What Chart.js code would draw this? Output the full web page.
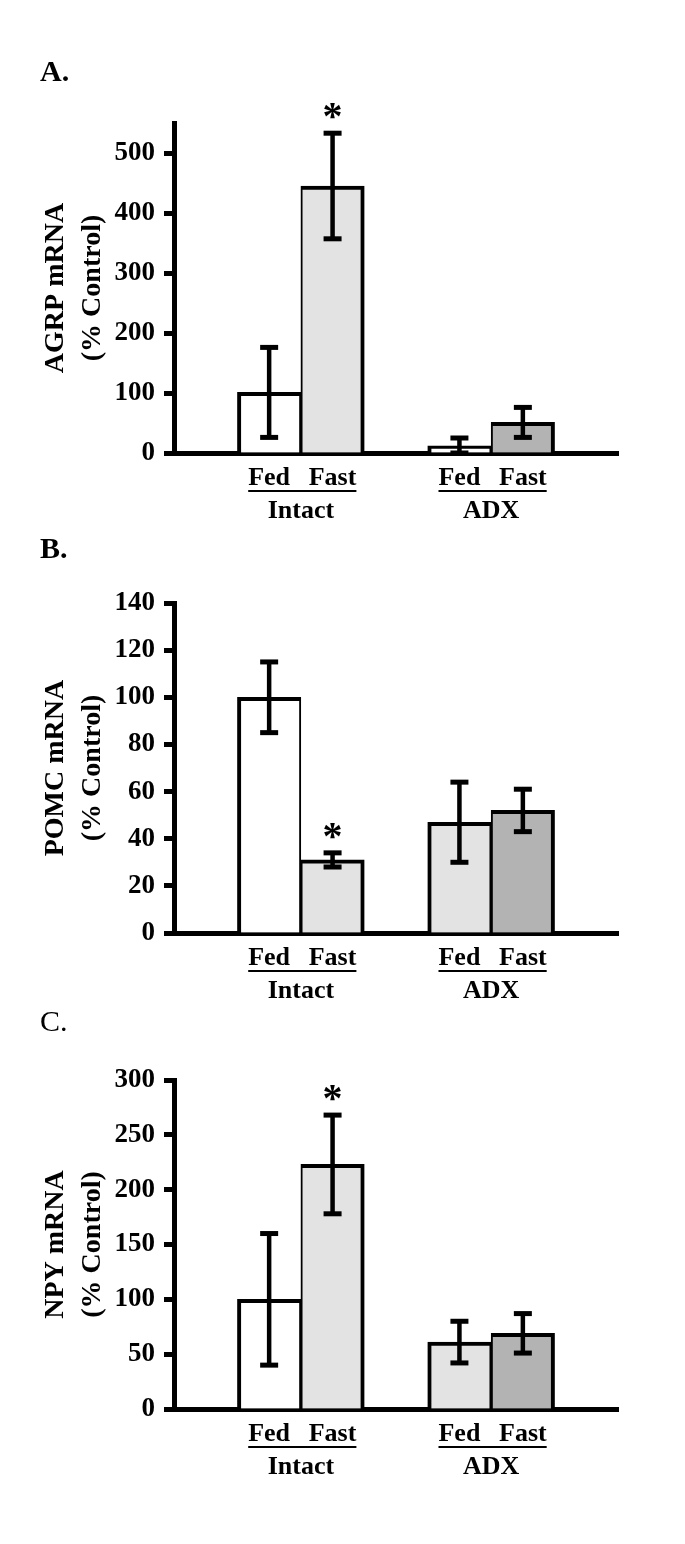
<!DOCTYPE html>
<html>
<head>
<meta charset="utf-8">
<script src="https://cdn.jsdelivr.net/npm/chart.js@4.4.1/dist/chart.umd.min.js"></script>
<style>
html,body{margin:0;padding:0;background:#fff;}
body{width:685px;height:1544px;position:relative;overflow:hidden;}
.panel{position:absolute;left:0;width:685px;}
canvas{display:block;}
</style>
</head>
<body>
<div class="panel" style="top:0px;height:525px"><canvas id="cA" width="685" height="525"></canvas></div>
<div class="panel" style="top:525px;height:475px"><canvas id="cB" width="685" height="475"></canvas></div>
<div class="panel" style="top:1000px;height:544px"><canvas id="cC" width="685" height="544"></canvas></div>
<script>
// ---------- data ----------
const conditions = ['Fed', 'Fast', 'Fed', 'Fast'];
const groups = ['Intact', 'ADX'];
const panelLetters = ['A.', 'B.', 'C.'];

const agrpTitle = ['AGRP mRNA', '(% Control)'];
const agrpMean = [101, 445, 12, 51];
const agrpErr  = [75, 88, 13, 25];
const agrpSig  = ['', '*', '', ''];
const agrpTickLabels = [0, 100, 200, 300, 400, 500];
const agrpAxis = [0, 550, 50];

const pomcTitle = ['POMC mRNA', '(% Control)'];
const pomcMean = [100, 31, 47, 52];
const pomcErr  = [15, 3, 17, 9];
const pomcSig  = ['', '*', '', ''];
const pomcTickLabels = [0, 20, 40, 60, 80, 100, 120, 140];
const pomcAxis = [0, 140, 20];

const npyTitle = ['NPY mRNA', '(% Control)'];
const npyMean = [100, 223, 61, 69];
const npyErr  = [60, 45, 19, 18];
const npySig  = ['', '*', '', ''];
const npyTickLabels = [0, 50, 100, 150, 200, 250, 300];
const npyAxis = [0, 300, 50];

// ---------- layout helpers ----------
const SERIF = '"Liberation Serif", "Times New Roman", serif';
const slotOf = [1, 2, 4, 5];   // category slots used by the 4 bars (7 slots total)
const NSLOTS = 7;

function slotLabels() {
  const a = Array(NSLOTS).fill('');
  slotOf.forEach((s, i) => a[s] = conditions[i]);
  return a;
}
function slotValues(vals) {
  const a = Array(NSLOTS).fill(null);
  slotOf.forEach((s, i) => a[s] = vals[i]);
  return a;
}
function slotColors(cols) {
  const a = Array(NSLOTS).fill('#ffffff');
  slotOf.forEach((s, i) => a[s] = cols[i]);
  return a;
}

const decor = {
  id: 'decor',
  afterDatasetsDraw(chart, args, o) {
    const ctx = chart.ctx, y = chart.scales.y, meta = chart.getDatasetMeta(0);
    ctx.save();
    ctx.strokeStyle = '#000';
    ctx.fillStyle = '#000';
    ctx.lineCap = 'butt';
    slotOf.forEach((slot, i) => {
      const cx = meta.data[slot].x;
      const m = o.means[i], e = o.errs[i];
      const yt = y.getPixelForValue(m + e);
      const yb = y.getPixelForValue(Math.max(0, m - e));
      ctx.lineWidth = 4.5;
      ctx.beginPath(); ctx.moveTo(cx, yt); ctx.lineTo(cx, yb); ctx.stroke();
      ctx.lineWidth = 5;
      [yt, yb].forEach(yy => {
        ctx.beginPath(); ctx.moveTo(cx - 9, yy); ctx.lineTo(cx + 9, yy); ctx.stroke();
      });
      if (o.marks[i]) {
        ctx.font = 'bold 40px ' + SERIF;
        ctx.textAlign = 'center';
        ctx.textBaseline = 'alphabetic';
        ctx.fillText(o.marks[i], cx, yt - 4);
      }
    });
    ctx.restore();
  },
  afterDraw(chart, args, o) {
    const ctx = chart.ctx, meta = chart.getDatasetMeta(0), bottom = chart.chartArea.bottom;
    ctx.save();
    ctx.fillStyle = '#000';
    ctx.font = 'bold 26px ' + SERIF;
    for (let g = 0; g < groups.length; g++) {
      const i0 = 2 * g, i1 = 2 * g + 1;
      const c0 = meta.data[slotOf[i0]].x, c1 = meta.data[slotOf[i1]].x;
      const x0 = c0 - ctx.measureText(conditions[i0]).width / 2;
      const x1 = c1 + ctx.measureText(conditions[i1]).width / 2;
      ctx.fillRect(x0, bottom + 37, x1 - x0, 2);
      ctx.textAlign = 'center';
      ctx.textBaseline = 'alphabetic';
      ctx.fillText(groups[g], (c0 + c1) / 2, bottom + 65);
    }
    ctx.font = (o.letterBold ? 'bold ' : '') + '30px ' + SERIF;
    ctx.textAlign = 'left';
    ctx.textBaseline = 'alphabetic';
    ctx.fillText(o.letter, 40, o.letterY);
    ctx.restore();
  }
};

function makeChart(id, cfg) {
  const [ymin, ymax, ystep] = cfg.axis;
  return new Chart(document.getElementById(id), {
    type: 'bar',
    data: {
      labels: slotLabels(),
      datasets: [{
        data: slotValues(cfg.means),
        backgroundColor: slotColors(cfg.colors),
        borderColor: '#000',
        borderWidth: (c) => (c.dataIndex === 1 || c.dataIndex === 4)
          ? {top: 4, left: 4, right: 2, bottom: 0}
          : {top: 4, left: 2, right: 4, bottom: 0},
        borderSkipped: 'start',
        barPercentage: 1,
        categoryPercentage: 1
      }]
    },
    options: {
      responsive: false,
      animation: false,
      events: [],
      layout: {padding: {top: cfg.padTop, bottom: cfg.padBottom, left: 0, right: 67}},
      plugins: {
        legend: {display: false},
        tooltip: {enabled: false},
        decor: {means: cfg.means, errs: cfg.errs, marks: cfg.marks,
                letter: cfg.letter, letterBold: cfg.letterBold, letterY: cfg.letterY}
      },
      scales: {
        x: {
          type: 'category',
          z: 1,
          grid: {display: false, drawTicks: false},
          border: {display: true, width: 5, color: '#000'},
          ticks: {color: '#000', font: {family: SERIF, size: 26, weight: 'bold'},
                  padding: 10, autoSkip: false, maxRotation: 0, minRotation: 0},
          afterFit: (s) => { s.height = cfg.xHeight; }
        },
        y: {
          z: 1,
          min: ymin, max: ymax,
          grid: {display: true, drawOnChartArea: false, drawTicks: true,
                 tickLength: 10, tickWidth: 5, tickColor: '#000'},
          border: {display: true, width: 5, color: '#000'},
          ticks: {
            stepSize: ystep, color: '#000', padding: 9,
            font: {family: SERIF, size: 27, weight: 'bold'},
            callback: (v) => cfg.tickLabels.includes(v) ? String(v) : ''
          },
          title: {display: true, text: cfg.title, color: '#000',
                  font: {family: SERIF, size: 28, weight: 'bold', lineHeight: 1.3},
                  padding: {top: 38, bottom: 0}},
          afterFit: (s) => { s.width = 174; }
        }
      }
    },
    plugins: [decor]
  });
}

makeChart('cA', {
  means: agrpMean, errs: agrpErr, marks: agrpSig, title: agrpTitle,
  tickLabels: agrpTickLabels, axis: agrpAxis,
  colors: ['#ffffff', '#e3e3e3', '#ffffff', '#b3b3b3'],
  padTop: 123, padBottom: 7, xHeight: 65,
  letter: panelLetters[0], letterBold: true, letterY: 81
});
makeChart('cB', {
  means: pomcMean, errs: pomcErr, marks: pomcSig, title: pomcTitle,
  tickLabels: pomcTickLabels, axis: pomcAxis,
  colors: ['#ffffff', '#e3e3e3', '#e3e3e3', '#b3b3b3'],
  padTop: 78, padBottom: 7, xHeight: 60,
  letter: panelLetters[1], letterBold: true, letterY: 33
});
makeChart('cC', {
  means: npyMean, errs: npyErr, marks: npySig, title: npyTitle,
  tickLabels: npyTickLabels, axis: npyAxis,
  colors: ['#ffffff', '#e3e3e3', '#e3e3e3', '#b3b3b3'],
  padTop: 80, padBottom: 75, xHeight: 60,
  letter: panelLetters[2], letterBold: false, letterY: 31
});
</script>
</body>
</html>
